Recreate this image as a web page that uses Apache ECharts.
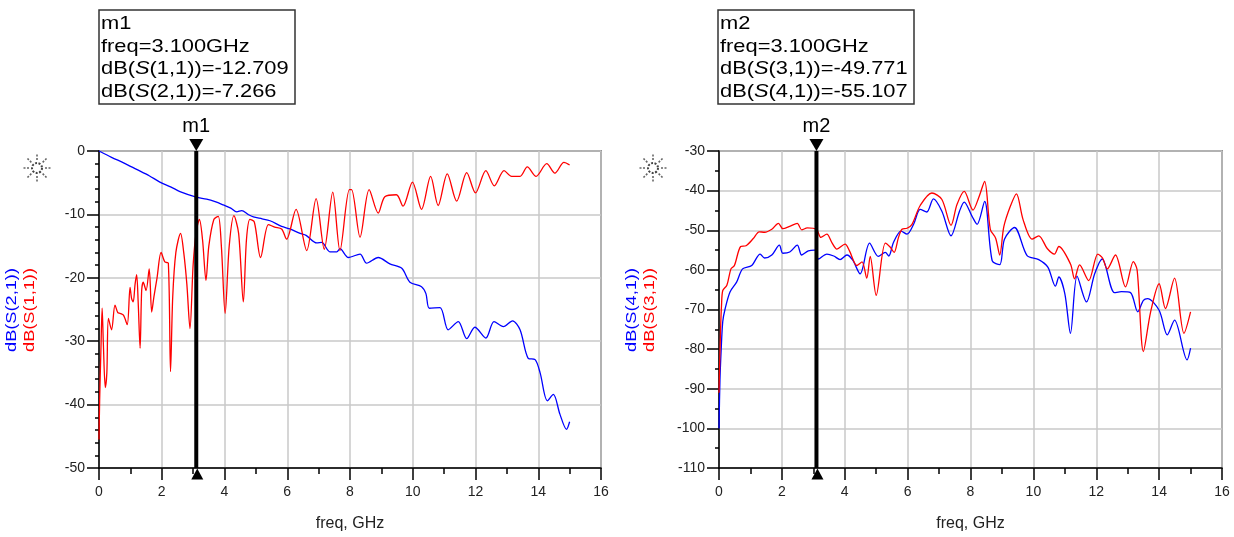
<!DOCTYPE html>
<html>
<head>
<meta charset="utf-8">
<script src="https://cdn.jsdelivr.net/npm/echarts@6/dist/echarts.min.js"></script>
<style>
  html, body { margin: 0; padding: 0; background: #fff; }
  #chart { width: 1234px; height: 537px; }
</style>
</head>
<body>
<div id="chart"></div>
<script>
// left plot: dB(S(1,1)) red, dB(S(2,1)) blue
const s21Freq = [0,0.4,0.8,1.2,1.6,1.94,2.3,2.58,3.1,3.43,3.7,3.96,4.2,4.39,4.55,4.75,4.92,5.2,5.45,5.82,6.09,6.41,6.6,6.94,7.1,7.36,7.58,7.68,7.95,8.32,8.53,8.9,9.27,9.65,9.91,10.28,10.42,10.53,10.87,11.13,11.45,11.72,11.98,12.33,12.59,12.89,13.18,13.42,13.68,13.9,14.06,14.29,14.48,14.69,14.9,15.0]
const s21dB = [0,-1.0,-1.9,-2.9,-3.9,-4.9,-5.7,-6.4,-7.27,-7.6,-8.0,-8.5,-9.0,-9.6,-9.4,-10.0,-10.4,-10.7,-11.0,-11.9,-12.3,-13.0,-13.3,-14.5,-14.4,-15.9,-15.9,-15.4,-16.8,-16.25,-17.7,-16.8,-17.8,-18.5,-20.7,-21.4,-22.5,-24.8,-24.7,-28.2,-26.9,-29.6,-27.8,-29.5,-26.9,-27.7,-26.8,-28.2,-32.7,-32.9,-35,-39.4,-38.4,-41.5,-43.9,-42.7]

const s11Freq = [0,0.02,0.06,0.1,0.14,0.2,0.25,0.3,0.4,0.51,0.6,0.67,0.78,0.9,0.99,1.04,1.09,1.15,1.2,1.25,1.31,1.36,1.41,1.5,1.6,1.68,1.75,1.85,1.98,2.1,2.21,2.28,2.35,2.45,2.6,2.7,2.8,2.9,3.0,3.1,3.2,3.3,3.41,3.5,3.66,3.8,3.9,4.02,4.15,4.3,4.45,4.6,4.7,4.81,4.95,5.15,5.4,5.6,5.82,5.98,6.28,6.62,6.92,7.18,7.45,7.68,7.98,8.05,8.32,8.61,8.9,9.11,9.48,9.69,9.99,10.28,10.57,10.81,11.1,11.4,11.72,12.0,12.33,12.6,12.91,13.15,13.42,13.65,13.93,14.27,14.53,14.82,15.0]
const s11dB = [-45.5,-39.5,-31.6,-24.8,-30.6,-37.3,-35,-26.4,-28.2,-24.3,-25.5,-25.6,-25.9,-27.4,-21.5,-23.3,-23.8,-21,-19.5,-24,-31.1,-22,-20.7,-22,-18.6,-25.4,-23,-20,-16.0,-17.5,-17.7,-34.8,-23,-16,-13.0,-16,-21,-28,-18,-12.7,-10.8,-14,-20.4,-15,-10.8,-10.3,-15,-25.6,-15,-10.2,-13,-23.8,-14,-10.8,-11.2,-16.8,-11.6,-12,-12.3,-13.9,-9.2,-15.7,-7.5,-15.5,-6.5,-15.7,-6.1,-6.1,-13.6,-6.1,-9.8,-7.2,-6.9,-8.7,-4.9,-9.2,-4.0,-8.6,-3.6,-7.9,-3.4,-6.6,-3.1,-5.5,-3.1,-4.0,-4.0,-2.5,-4.0,-2.0,-3.5,-1.8,-2.2]

// right plot: dB(S(3,1)) red, dB(S(4,1)) blue
const s31Freq = [0,0.02,0.05,0.08,0.12,0.25,0.38,0.49,0.69,0.86,1.09,1.28,1.45,1.68,1.89,2.03,2.25,2.49,2.63,2.81,3.1,3.24,3.43,3.59,3.75,4.01,4.15,4.39,4.55,4.7,4.81,5.0,5.29,5.45,5.57,5.71,5.82,5.98,6.14,6.4,6.77,7.09,7.38,7.57,7.8,8.08,8.26,8.45,8.63,8.8,8.93,9.06,9.27,9.46,9.67,9.96,10.17,10.44,10.67,10.81,11.18,11.31,11.47,11.76,12.05,12.2,12.35,12.61,12.93,13.18,13.3,13.5,13.73,14.0,14.2,14.49,14.79,15.0]
const s31dB = [-91,-84,-75,-69,-65.2,-63.9,-59.75,-58.9,-54.1,-53.9,-52.1,-50.4,-50.5,-49.75,-48.25,-49.6,-49,-48.25,-49.9,-49.4,-49.77,-51.8,-51,-53.1,-54.75,-53.5,-55.2,-58.9,-58,-62.1,-56.6,-66.4,-53.25,-54.3,-55.6,-51.8,-49.75,-49.5,-48.5,-43.75,-40.6,-42.25,-48.75,-43.5,-40.2,-44.9,-41.8,-37.7,-49.75,-52,-56.25,-49.1,-43.9,-40.8,-47.25,-52.25,-51.4,-54.6,-56,-54.1,-58.5,-62.25,-58.75,-62.7,-56,-57,-59.75,-56.25,-64.3,-57.9,-60,-80.6,-70.6,-63.5,-69.75,-62.1,-76,-70.6]

const s41Freq = [0,0.03,0.07,0.12,0.19,0.35,0.56,0.75,1.04,1.31,1.45,1.68,1.92,2.03,2.25,2.49,2.63,2.84,3.04,3.1,3.16,3.43,3.65,3.85,4.07,4.25,4.49,4.79,5.07,5.29,5.4,5.55,5.79,5.98,6.19,6.4,6.61,6.82,7.09,7.38,7.65,7.8,8.05,8.21,8.45,8.69,8.93,9.08,9.4,9.8,10.17,10.46,10.7,10.81,11.0,11.18,11.39,11.69,11.95,12.19,12.58,12.8,13.09,13.32,13.5,13.63,14.0,14.26,14.49,14.89,15.0]
const s41dB = [-100,-88,-80,-73,-70,-65.6,-63.1,-59.75,-58.9,-56,-57,-56.25,-53.75,-55.8,-55.5,-53.75,-56.25,-55.2,-55,-55.1,-57.25,-56,-56.5,-57.4,-56.25,-57.5,-61,-53.25,-56.6,-55.6,-56.5,-53.1,-50.2,-51,-48.5,-44.75,-45.4,-42.1,-45.2,-51.4,-45.2,-42.9,-46.5,-48.5,-42.7,-57.7,-58.7,-52.25,-49.3,-56.4,-57.4,-59.3,-64.1,-61.8,-66,-76,-61.6,-68.1,-61,-57.25,-65.75,-65.5,-65.75,-70.6,-67.7,-67.25,-70.2,-76.4,-72.7,-82.7,-79.75]

const markerFreq = 3.1
const box1Lines = ['m1', 'freq=3.100GHz', 'dB({i|S}(1,1))=-12.709', 'dB({i|S}(2,1))=-7.266']
const box2Lines = ['m2', 'freq=3.100GHz', 'dB({i|S}(3,1))=-49.771', 'dB({i|S}(4,1))=-55.107']

const RED = '#ff0000', BLUE = '#0000ff'
const FONT = 'Liberation Sans, Arial, sans-serif'
const pair = (xs, ys) => xs.map((x, i) => [x, ys[i]])

const chart = echarts.init(document.getElementById('chart'), null, { renderer: 'canvas' })

function xAxisOf(gi) {
  return {
    gridIndex: gi, type: 'value', min: 0, max: 16, interval: 2,
    name: 'freq, GHz', nameLocation: 'middle', nameGap: 48,
    nameTextStyle: { color: '#222', fontSize: 16, fontFamily: FONT },
    axisLine: { show: true, onZero: false, lineStyle: { color: '#000', width: 1.5 } },
    axisTick: { show: true, length: 12, lineStyle: { color: '#000', width: 1.5 } },
    minorTick: { show: true, splitNumber: 2, length: 6, lineStyle: { color: '#000', width: 1.5 } },
    axisLabel: { color: '#222', fontSize: 14, fontFamily: FONT, margin: 17 },
    splitLine: { show: true, lineStyle: { color: '#c8c8c8', width: 1.5 } },
  }
}
function yAxisOf(gi, min, max, minorSplit) {
  return {
    gridIndex: gi, type: 'value', min, max, interval: 10,
    axisLine: { show: true, onZero: false, lineStyle: { color: '#000', width: 1.5 } },
    axisTick: { show: true, length: 12, lineStyle: { color: '#000', width: 1.5 } },
    minorTick: { show: true, splitNumber: minorSplit, length: 4, lineStyle: { color: '#000', width: 1.5 } },
    axisLabel: { color: '#222', fontSize: 14, fontFamily: FONT, margin: 14 },
    splitLine: { show: true, lineStyle: { color: '#c8c8c8', width: 1.5 } },
  }
}
function curve(name, data, color, gi) {
  return { name, type: 'line', xAxisIndex: gi, yAxisIndex: gi, data, showSymbol: false, symbol: 'none',
    smooth: 0.3, lineStyle: { color, width: 1.3 }, itemStyle: { color }, z: 3 }
}
function marker(gi, top, bottom, label) {
  return [
    { type: 'line', xAxisIndex: gi, yAxisIndex: gi, data: [[markerFreq, top], [markerFreq, bottom]],
      showSymbol: false, symbol: 'none', lineStyle: { color: '#000', width: 4 }, z: 5 },
    { type: 'scatter', xAxisIndex: gi, yAxisIndex: gi, data: [[markerFreq, top]], clip: false,
      symbol: 'triangle', symbolRotate: 180, symbolSize: [14, 12], symbolOffset: [0, -6],
      itemStyle: { color: '#000', opacity: 1 }, z: 6,
      label: { show: true, position: 'top', distance: 3, formatter: label, color: '#000', fontSize: 20, fontFamily: FONT } },
    { type: 'scatter', xAxisIndex: gi, yAxisIndex: gi, data: [[markerFreq, bottom]], clip: false,
      symbol: 'triangle', symbolSize: [12, 11], symbolOffset: [1, 6],
      itemStyle: { color: '#000', opacity: 1 }, z: 6 },
  ]
}

function infoBox(x, lines) {
  const children = [{ type: 'rect', shape: { x: x, y: 10, width: 196, height: 94 },
    style: { fill: '#fff', stroke: '#333', lineWidth: 1.5 } }]
  lines.forEach((t, i) => {
    children.push({ type: 'text', x: x + 2, y: 24 + i * 22.5, scaleX: 1.15,
      style: { text: t, font: '19px ' + FONT, fill: '#000', verticalAlign: 'middle',
        rich: { i: { fontStyle: 'italic', fontSize: 19, fontFamily: FONT, fill: '#000' } } } })
  })
  return { type: 'group', children }
}
function axisNames(x, blueName, redName) {
  const mk = (dx, t, c) => ({ type: 'text', x: x + dx, y: 310, rotation: Math.PI / 2, scaleX: 1.3,
    style: { text: t, font: '14px ' + FONT, fill: c, align: 'center', verticalAlign: 'middle' } })
  return { type: 'group', children: [mk(0, blueName, BLUE), mk(18, redName, RED)] }
}
function sunIcon(cx, cy) {
  const children = [{ type: 'circle', shape: { cx, cy, r: 5 },
    style: { fill: 'none', stroke: '#444', lineWidth: 2, lineDash: [2, 1.5] } }]
  for (let k = 0; k < 8; k++) {
    const a = k * Math.PI / 4
    children.push({ type: 'line', shape: { x1: cx + 8 * Math.cos(a), y1: cy + 8 * Math.sin(a), x2: cx + 14 * Math.cos(a), y2: cy + 14 * Math.sin(a) },
      style: { stroke: '#666', lineWidth: 1.6, lineDash: [2, 1.5] } })
  }
  return { type: 'group', children }
}

chart.setOption({
  animation: false,
  backgroundColor: '#fff',
  grid: [
    { left: 99, right: 633, top: 151, bottom: 66, show: true, borderColor: '#444', borderWidth: 1.5 },
    { left: 719, right: 12, top: 151, bottom: 66, show: true, borderColor: '#444', borderWidth: 1.5 },
  ],
  xAxis: [xAxisOf(0), xAxisOf(1)],
  yAxis: [yAxisOf(0, -50, 0, 5), yAxisOf(1, -110, -30, 2)],
  series: [
    curve('dB(S(2,1))', pair(s21Freq, s21dB), BLUE, 0),
    curve('dB(S(1,1))', pair(s11Freq, s11dB), RED, 0),
    curve('dB(S(4,1))', pair(s41Freq, s41dB), BLUE, 1),
    curve('dB(S(3,1))', pair(s31Freq, s31dB), RED, 1),
    ...marker(0, 0, -50, 'm1'),
    ...marker(1, -30, -110, 'm2'),
  ],
  graphic: [
    infoBox(99, box1Lines),
    infoBox(718, box2Lines),
    axisNames(12, 'dB(S(2,1))', 'dB(S(1,1))'),
    axisNames(632, 'dB(S(4,1))', 'dB(S(3,1))'),
    sunIcon(37, 168),
    sunIcon(653, 168),
  ],
})
</script>
</body>
</html>
